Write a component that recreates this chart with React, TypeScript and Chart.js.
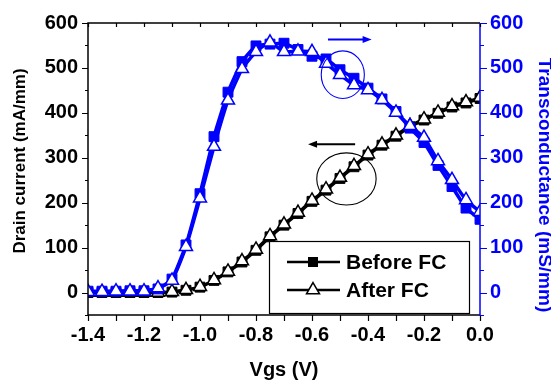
import React, { useEffect, useRef } from "react";
import { Chart, registerables } from "chart.js";

Chart.register(...registerables);

// Gate voltage sweep (V)
const vgs = [
  -1.4, -1.35, -1.3, -1.25, -1.2, -1.15, -1.1, -1.05, -1.0, -0.95, -0.9, -0.85, -0.8, -0.75,
  -0.7, -0.65, -0.6, -0.55, -0.5, -0.45, -0.4, -0.35, -0.3, -0.25, -0.2, -0.15, -0.1, -0.05, 0.0,
];

// Drain current (mA/mm)
const idBefore = [
  0, 0, 0, 0, 0, 0, 1, 5, 12, 27, 46, 68, 94, 124, 150, 176, 203, 228, 254, 280, 306, 328, 348,
  369, 384, 399, 413, 422, 432,
];
const idAfter = [
  0, 0, 0, 0, 0, 0, 2, 6, 13, 28, 47, 70, 96, 126, 152, 178, 205, 230, 256, 282, 308, 330, 350,
  371, 386, 401, 415, 424, 434,
];

// Transconductance (mS/mm)
const gmBefore = [
  3, 3, 3, 4, 4, 8, 30, 106, 220, 347, 446, 514, 549, 553, 555, 541, 526, 520, 496, 477, 455, 431,
  403, 366, 334, 283, 236, 188, 163,
];
const gmAfter = [
  2, 2, 3, 3, 3, 10, 27, 102, 210, 325, 428, 498, 536, 557, 536, 537, 536, 510, 485, 462, 451, 429,
  401, 371, 345, 293, 251, 206, 180,
];

// Axis ticks
const xLabelTicks = [-1.4, -1.2, -1.0, -0.8, -0.6, -0.4, -0.2, 0.0];
const xTickMarks = [-1.4, -1.3, -1.2, -1.1, -1.0, -0.9, -0.8, -0.7, -0.6, -0.5, -0.4, -0.3, -0.2, -0.1, 0.0];
const yLabelTicks = [0, 100, 200, 300, 400, 500, 600];
const yTickMarks = [-50, 0, 50, 100, 150, 200, 250, 300, 350, 400, 450, 500, 550, 600];

const seriesNames = ["Before FC", "After FC"];

const BLUE = "#0000ff";
const FONT = "'Liberation Sans', Arial, Helvetica, sans-serif";

const points = (ys: number[]) => vgs.map((x, i) => ({ x, y: ys[i] }));

// Frame, tick marks, guide arrows/ellipses, legend and axis titles
const decorations = {
  id: "decorations",
  afterDatasetsDraw(chart: any) {
    const { ctx, chartArea, scales } = chart;
    const { left, right, top, bottom } = chartArea;
    const x = scales.x;
    const y = scales.y;
    const y1 = scales.y1;
    ctx.save();

    // axis lines
    ctx.lineWidth = 1.5;
    ctx.strokeStyle = "#000";
    ctx.beginPath();
    ctx.moveTo(right, top);
    ctx.lineTo(left, top);
    ctx.lineTo(left, bottom);
    ctx.lineTo(right, bottom);
    ctx.stroke();
    ctx.strokeStyle = BLUE;
    ctx.beginPath();
    ctx.moveTo(right, top);
    ctx.lineTo(right, bottom + 0.75);
    ctx.stroke();

    // x tick marks (bottom outward, top inward)
    ctx.strokeStyle = "#000";
    ctx.lineWidth = 1.2;
    ctx.beginPath();
    for (const v of xTickMarks) {
      const px = Math.round(x.getPixelForValue(v)) + 0.5;
      ctx.moveTo(px, bottom);
      ctx.lineTo(px, bottom + 6);
      ctx.moveTo(px, top);
      ctx.lineTo(px, top + 4);
    }
    ctx.stroke();

    // left y tick marks
    ctx.beginPath();
    for (const v of yTickMarks) {
      const py = Math.round(y.getPixelForValue(v)) + 0.5;
      const len = v % 100 === 0 ? 6 : 3;
      ctx.moveTo(left, py);
      ctx.lineTo(left - len, py);
    }
    ctx.stroke();

    // right y tick marks
    ctx.strokeStyle = BLUE;
    ctx.beginPath();
    for (const v of yTickMarks) {
      const py = Math.round(y1.getPixelForValue(v)) + 0.5;
      const len = v % 100 === 0 ? 7 : 4;
      ctx.moveTo(right, py);
      ctx.lineTo(right + len, py);
    }
    ctx.stroke();

    // guide ellipses
    const ellipse = (cx: number, cy: number, rx: number, ry: number, color: string) => {
      const px = x.getPixelForValue(cx);
      const py = y.getPixelForValue(cy);
      const prx = x.getPixelForValue(cx + rx) - px;
      const pry = py - y.getPixelForValue(cy + ry);
      ctx.strokeStyle = color;
      ctx.lineWidth = 1.1;
      ctx.beginPath();
      ctx.ellipse(px, py, prx, pry, 0, 0, Math.PI * 2);
      ctx.stroke();
    };
    ellipse(-0.49, 485, 0.077, 53, BLUE);
    ellipse(-0.477, 253, 0.106, 58, "#000");

    // guide arrows
    const arrow = (x0: number, x1: number, v: number, color: string) => {
      const p0 = x.getPixelForValue(x0);
      const p1 = x.getPixelForValue(x1);
      const py = y.getPixelForValue(v);
      const dir = Math.sign(p1 - p0);
      ctx.strokeStyle = color;
      ctx.fillStyle = color;
      ctx.lineWidth = 2;
      ctx.beginPath();
      ctx.moveTo(p0, py);
      ctx.lineTo(p1 - dir * 6, py);
      ctx.stroke();
      ctx.beginPath();
      ctx.moveTo(p1, py);
      ctx.lineTo(p1 - dir * 9, py - 3.5);
      ctx.lineTo(p1 - dir * 9, py + 3.5);
      ctx.closePath();
      ctx.fill();
    };
    arrow(-0.543, -0.387, 563, BLUE);
    arrow(-0.446, -0.614, 330, "#000");

    // legend
    const bx = left + 181;
    const by = top + 218;
    const bw = 200;
    const bh = 72;
    ctx.fillStyle = "#fff";
    ctx.fillRect(bx, by, bw, bh);
    ctx.strokeStyle = "#000";
    ctx.lineWidth = 1.2;
    ctx.strokeRect(bx + 0.5, by + 0.5, bw, bh);
    const rows = [by + 21, by + 49];
    rows.forEach((ry, i) => {
      ctx.strokeStyle = "#000";
      ctx.lineWidth = 2.5;
      ctx.beginPath();
      ctx.moveTo(bx + 18, ry);
      ctx.lineTo(bx + 71, ry);
      ctx.stroke();
      const mx = bx + 44;
      ctx.lineWidth = 1.5;
      if (i === 0) {
        ctx.fillStyle = "#000";
        ctx.fillRect(mx - 5, ry - 5, 10, 10);
      } else {
        const r = 7.5;
        ctx.fillStyle = "#fff";
        ctx.beginPath();
        ctx.moveTo(mx, ry - r);
        ctx.lineTo(mx + r * 0.866, ry + r * 0.5);
        ctx.lineTo(mx - r * 0.866, ry + r * 0.5);
        ctx.closePath();
        ctx.fill();
        ctx.stroke();
      }
      ctx.fillStyle = "#000";
      ctx.font = `bold 21px ${FONT}`;
      ctx.textAlign = "left";
      ctx.textBaseline = "middle";
      ctx.fillText(seriesNames[i], bx + 77, ry + 1);
    });

    // axis titles
    ctx.fillStyle = "#000";
    ctx.textAlign = "center";
    ctx.textBaseline = "middle";
    ctx.font = `bold 20px ${FONT}`;
    ctx.fillText("Vgs (V)", (left + right) / 2, 370);

    ctx.save();
    ctx.translate(20.5, 161);
    ctx.rotate(-Math.PI / 2);
    ctx.font = `bold 17px ${FONT}`;
    ctx.fillText("Drain current (mA/mm)", 0, 0);
    ctx.restore();

    ctx.save();
    ctx.translate(544, 185);
    ctx.rotate(Math.PI / 2);
    ctx.fillStyle = BLUE;
    ctx.font = `bold 19px ${FONT}`;
    ctx.fillText("Transconductance (mS/mm)", 0, 0);
    ctx.restore();

    ctx.restore();
  },
};

const hiddenGrid = {
  display: true,
  drawOnChartArea: false,
  drawTicks: true,
  tickLength: 7,
  color: "transparent",
  tickColor: "transparent",
};

export default function App() {
  const canvasRef = useRef<HTMLCanvasElement | null>(null);

  useEffect(() => {
    const canvas = canvasRef.current;
    if (!canvas) return;

    const lineSet = (
      label: string,
      ys: number[],
      axis: string,
      color: string,
      filled: boolean,
      order: number,
      width: number
    ) => ({
      label,
      data: points(ys),
      yAxisID: axis,
      borderColor: color,
      backgroundColor: color,
      borderWidth: width,
      tension: 0.15,
      pointStyle: filled ? "rect" : "triangle",
      pointRadius: filled ? 7 : 7.5,
      pointBackgroundColor: filled ? color : "#fff",
      pointBorderColor: color,
      pointBorderWidth: filled ? 1 : 1.5,
      clip: 0,
      order,
    });

    const chart = new Chart(canvas, {
      type: "line",
      data: {
        datasets: [
          lineSet(seriesNames[0], idBefore, "y", "#000", true, 4, 3),
          lineSet(seriesNames[1], idAfter, "y", "#000", false, 3, 3),
          lineSet(seriesNames[0], gmBefore, "y1", BLUE, true, 2, 3.5),
          lineSet(seriesNames[1], gmAfter, "y1", BLUE, false, 1, 3.5),
        ] as any,
      },
      options: {
        responsive: false,
        animation: false,
        layout: { padding: { top: 23, left: 0, right: 0, bottom: 0 } },
        plugins: {
          legend: { display: false },
          tooltip: { enabled: false },
        },
        scales: {
          x: {
            type: "linear",
            min: -1.4,
            max: 0,
            afterBuildTicks: (s: any) => {
              s.ticks = xLabelTicks.map((value) => ({ value }));
            },
            afterFit: (s: any) => {
              s.height = 70;
            },
            border: { display: false },
            grid: hiddenGrid,
            ticks: {
              padding: 1,
              color: "#000",
              font: { family: FONT, size: 20, weight: "bold" },
              maxRotation: 0,
              callback: (v: any) => Number(v).toFixed(1),
            },
          },
          y: {
            position: "left",
            min: -50,
            max: 600,
            afterBuildTicks: (s: any) => {
              s.ticks = yLabelTicks.map((value) => ({ value }));
            },
            afterFit: (s: any) => {
              s.width = 88;
            },
            border: { display: false },
            grid: hiddenGrid,
            ticks: {
              padding: 3,
              color: "#000",
              font: { family: FONT, size: 20, weight: "bold" },
              callback: (v: any) => String(v),
            },
          },
          y1: {
            position: "right",
            min: -50,
            max: 600,
            afterBuildTicks: (s: any) => {
              s.ticks = yLabelTicks.map((value) => ({ value }));
            },
            afterFit: (s: any) => {
              s.width = 71;
            },
            border: { display: false },
            grid: hiddenGrid,
            ticks: {
              padding: 3,
              color: BLUE,
              font: { family: FONT, size: 20, weight: "bold" },
              callback: (v: any) => String(v),
            },
          },
        },
      } as any,
      plugins: [decorations],
    });

    return () => chart.destroy();
  }, []);

  return (
    <div style={{ position: "absolute", left: 0, top: 0, width: 551, height: 385, background: "#fff" }}>
      <canvas ref={canvasRef} width={551} height={385} style={{ display: "block" }} />
    </div>
  );
}
